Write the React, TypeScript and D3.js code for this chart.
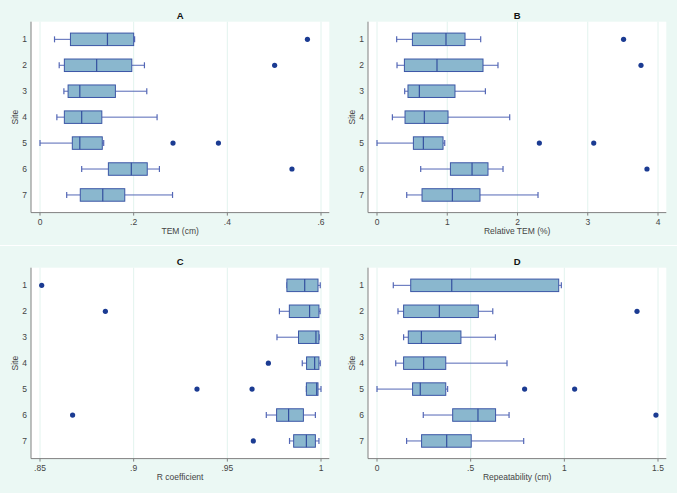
import React from 'react';
import * as d3 from 'd3';

const sites = ['1', '2', '3', '4', '5', '6', '7'];

// Panel A: TEM (cm)
const temLow = [0.031, 0.041, 0.051, 0.036, 0.0, 0.089, 0.057];
const temQ1 = [0.065, 0.052, 0.060, 0.052, 0.069, 0.146, 0.086];
const temMed = [0.144, 0.121, 0.085, 0.089, 0.085, 0.195, 0.134];
const temQ3 = [0.200, 0.196, 0.161, 0.132, 0.133, 0.229, 0.181];
const temHigh = [0.202, 0.223, 0.228, 0.250, 0.136, 0.255, 0.283];
const temOut = [[0.571], [0.501], [], [], [0.284, 0.381], [0.538], []];
const temTicks = [0, 0.2, 0.4, 0.6];
const temTickLabels = ['0', '.2', '.4', '.6'];

// Panel B: Relative TEM (%)
const relLow = [0.28, 0.285, 0.394, 0.219, 0.0, 0.622, 0.423];
const relQ1 = [0.504, 0.39, 0.441, 0.399, 0.518, 1.045, 0.641];
const relMed = [0.982, 0.854, 0.603, 0.674, 0.66, 1.353, 1.073];
const relQ3 = [1.253, 1.509, 1.11, 1.011, 0.94, 1.58, 1.466];
const relHigh = [1.476, 1.722, 1.543, 1.889, 0.964, 1.794, 2.292];
const relOut = [[3.51], [3.758], [], [], [2.311, 3.085], [3.843], []];
const relTicks = [0, 1, 2, 3, 4];
const relTickLabels = ['0', '1', '2', '3', '4'];

// Panel C: R coefficient
const rLow = [0.9818, 0.9778, 0.9765, 0.99, 0.9922, 0.9708, 0.9832];
const rQ1 = [0.9818, 0.9831, 0.988, 0.9923, 0.9922, 0.9763, 0.9854];
const rMed = [0.9913, 0.9939, 0.9973, 0.9966, 0.9977, 0.9827, 0.9922];
const rQ3 = [0.9984, 0.9989, 0.9989, 0.9989, 0.9984, 0.9906, 0.997];
const rHigh = [0.9996, 0.9995, 0.999, 0.9996, 1.0, 0.997, 0.9989];
const rOut = [[0.8509], [0.8849], [], [0.9719], [0.9338, 0.9632], [0.8674], [0.9639]];
const rTicks = [0.85, 0.9, 0.95, 1];
const rTickLabels = ['.85', '.9', '.95', '1'];

// Panel D: Repeatability (cm)
const repLow = [0.087, 0.112, 0.142, 0.1, 0.0, 0.247, 0.158];
const repQ1 = [0.18, 0.142, 0.167, 0.142, 0.19, 0.404, 0.238];
const repMed = [0.399, 0.333, 0.237, 0.249, 0.231, 0.539, 0.372];
const repQ3 = [0.97, 0.541, 0.448, 0.367, 0.367, 0.633, 0.503];
const repHigh = [0.984, 0.618, 0.632, 0.694, 0.377, 0.705, 0.783];
const repOut = [[], [1.388], [], [], [0.788, 1.055], [1.489], []];
const repTicks = [0, 0.5, 1, 1.5];
const repTickLabels = ['0', '.5', '1', '1.5'];

const W = 677;
const H = 493;
const FONT = '"Liberation Sans", Arial, sans-serif';

type PanelProps = {
  ox: number;
  oy: number;
  pw: number;
  ph: number;
  title: string;
  xTitle: string;
  low: number[];
  q1: number[];
  med: number[];
  q3: number[];
  high: number[];
  out: number[][];
  ticks: number[];
  tickLabels: string[];
};

function Panel(p: PanelProps) {
  const left = p.ox + 31;
  const right = p.ox + 329.3;
  const top = p.oy + 21.7;
  const bottom = p.oy + 212.6;
  const x = d3
    .scaleLinear()
    .domain([p.ticks[0], p.ticks[p.ticks.length - 1]])
    .range([p.ox + 40, p.ox + 321]);
  const y = d3.scalePoint<string>().domain(sites).range([top, bottom]).padding(0.68);
  const boxH = 12.5;
  const capH = 6;
  const cx = (left + right) / 2;
  return (
    <g>
      <rect x={p.ox} y={p.oy} width={p.pw} height={p.ph} fill="#ebf8f4" />
      <rect x={left} y={top} width={right - left} height={bottom - top} fill="#ffffff" />
      {p.ticks.map((t, i) => (
        <line key={'g' + i} x1={x(t)} x2={x(t)} y1={top} y2={bottom} stroke="#e2f3ee" strokeWidth={1} />
      ))}
      {sites.map((s, i) => {
        const yc = y(s) as number;
        return (
          <g key={'b' + i}>
            <line x1={x(p.low[i])} x2={x(p.q1[i])} y1={yc} y2={yc} stroke="#5467b6" strokeWidth={1} />
            <line x1={x(p.q3[i])} x2={x(p.high[i])} y1={yc} y2={yc} stroke="#5467b6" strokeWidth={1} />
            <line x1={x(p.low[i])} x2={x(p.low[i])} y1={yc - capH / 2} y2={yc + capH / 2} stroke="#5467b6" strokeWidth={1.2} />
            <line x1={x(p.high[i])} x2={x(p.high[i])} y1={yc - capH / 2} y2={yc + capH / 2} stroke="#5467b6" strokeWidth={1.2} />
            <rect
              x={x(p.q1[i])}
              y={yc - boxH / 2}
              width={Math.max(0.5, x(p.q3[i]) - x(p.q1[i]))}
              height={boxH}
              fill="#8ab7ce"
              stroke="#3b56a6"
              strokeWidth={1}
            />
            <line x1={x(p.med[i])} x2={x(p.med[i])} y1={yc - boxH / 2} y2={yc + boxH / 2} stroke="#34509f" strokeWidth={1.2} />
            {p.out[i].map((o, j) => (
              <circle key={'o' + j} cx={x(o)} cy={yc} r={2.6} fill="#1b3b92" />
            ))}
            <text x={left - 4} y={yc} dy="0.35em" textAnchor="end" fontSize={8.5} fill="#444" fontFamily={FONT}>
              {s}
            </text>
          </g>
        );
      })}
      <line x1={left} x2={left} y1={top} y2={bottom} stroke="#808080" strokeWidth={1} />
      <line x1={left} x2={right} y1={bottom} y2={bottom} stroke="#808080" strokeWidth={1} />
      {p.ticks.map((t, i) => (
        <g key={'t' + i}>
          <line x1={x(t)} x2={x(t)} y1={bottom} y2={bottom + 3} stroke="#808080" strokeWidth={1} />
          <text x={x(t)} y={bottom + 12.5} textAnchor="middle" fontSize={8.5} fill="#444" fontFamily={FONT}>
            {p.tickLabels[i]}
          </text>
        </g>
      ))}
      <text x={cx} y={bottom + 21.5} textAnchor="middle" fontSize={8.5} fill="#444" fontFamily={FONT}>
        {p.xTitle}
      </text>
      <text
        transform={`translate(${p.ox + 15.5},${(top + bottom) / 2}) rotate(-90)`}
        textAnchor="middle"
        dy="0.35em"
        fontSize={8.5}
        fill="#444"
        fontFamily={FONT}
      >
        Site
      </text>
      <text x={cx} y={p.oy + 19} textAnchor="middle" fontSize={9.5} fontWeight="bold" fill="#111" fontFamily={FONT}>
        {p.title}
      </text>
    </g>
  );
}

export default function App() {
  return (
    <svg
      width={W}
      height={H}
      style={{ position: 'fixed', left: 0, top: 0, display: 'block' }}
      xmlns="http://www.w3.org/2000/svg"
    >
      <rect x={0} y={0} width={W} height={H} fill="#ffffff" />
      <Panel ox={0} oy={0} pw={337.5} ph={245} title="A" xTitle="TEM (cm)" low={temLow} q1={temQ1} med={temMed} q3={temQ3} high={temHigh} out={temOut} ticks={temTicks} tickLabels={temTickLabels} />
      <Panel ox={337} oy={0} pw={340} ph={245} title="B" xTitle="Relative TEM (%)" low={relLow} q1={relQ1} med={relMed} q3={relQ3} high={relHigh} out={relOut} ticks={relTicks} tickLabels={relTickLabels} />
      <Panel ox={0} oy={246} pw={337.5} ph={247} title="C" xTitle="R coefficient" low={rLow} q1={rQ1} med={rMed} q3={rQ3} high={rHigh} out={rOut} ticks={rTicks} tickLabels={rTickLabels} />
      <Panel ox={337} oy={246} pw={340} ph={247} title="D" xTitle="Repeatability (cm)" low={repLow} q1={repQ1} med={repMed} q3={repQ3} high={repHigh} out={repOut} ticks={repTicks} tickLabels={repTickLabels} />
    </svg>
  );
}
